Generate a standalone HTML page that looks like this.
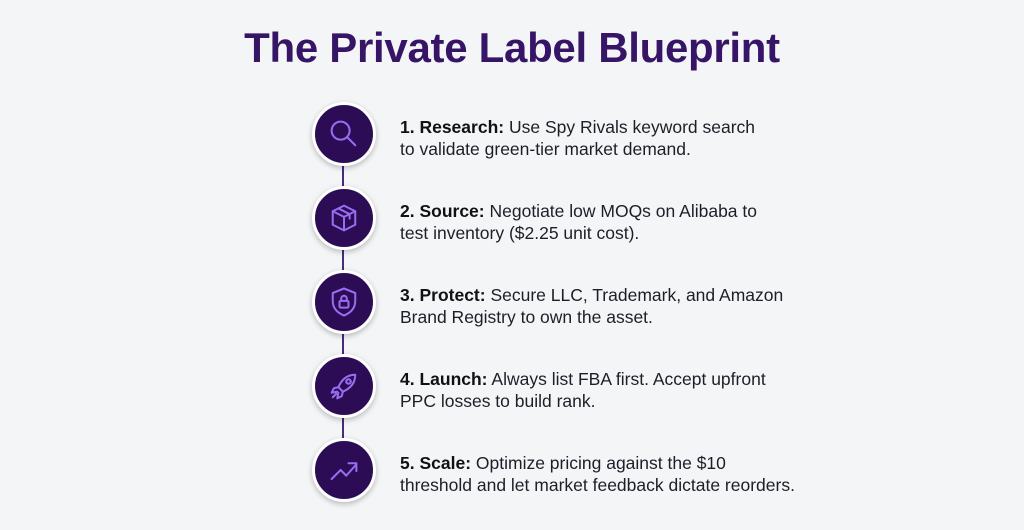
<!DOCTYPE html>
<html><head><meta charset="utf-8"><style>
body{margin:0;width:1024px;height:530px;background:#f4f5f7;font-family:"Liberation Sans",sans-serif;position:relative;overflow:hidden}
h1{position:absolute;top:24px;left:0;width:1024px;text-align:center;margin:0;font-size:42px;font-weight:bold;color:#371566;letter-spacing:-0.3px}
.line{position:absolute;left:342px;width:2px;background:#4a2a7a}
.c{position:absolute;left:312px;width:58px;height:58px;border-radius:50%;background:#2c0c55;border:3px solid #fff;box-shadow:0 2px 6px rgba(0,0,0,.25)}
.c svg{position:absolute;left:11px;top:11px;width:36px;height:36px;fill:none;stroke:#9a6cf2;stroke-width:1.8;stroke-linecap:round;stroke-linejoin:round}
.t{position:absolute;left:400px;font-size:17.5px;line-height:22px;color:#1e1e28}
.t b{color:#111}
</style></head><body>
<h1>The Private Label Blueprint</h1>
<div class="line" style="top:160px;height:280px"></div>

<div class="c" style="top:102px"><svg viewBox="0 0 32 32"><circle cx="13" cy="13" r="8"/><path d="M19 19l7 7"/></svg></div>
<div class="t" style="top:116px"><b>1. Research:</b> Use Spy Rivals keyword search<br>to validate green-tier market demand.</div>

<div class="c" style="top:186px"><svg viewBox="0 0 32 32"><path d="M16 5l10 5v12l-10 5-10-5V10z"/><path d="M6 10l10 5 10-5M16 15v12M11 7.5l10 5v4"/></svg></div>
<div class="t" style="top:200px"><b>2. Source:</b> Negotiate low MOQs on Alibaba to<br>test inventory ($2.25 unit cost).</div>

<div class="c" style="top:270px"><svg viewBox="0 0 32 32"><path d="M16 4l10 4v7c0 7-5 11-10 13C11 26 6 22 6 15V8z"/><rect x="12" y="15" width="8" height="6" rx="1"/><path d="M13.5 15v-2a2.5 2.5 0 0 1 5 0v2"/></svg></div>
<div class="t" style="top:284px"><b>3. Protect:</b> Secure LLC, Trademark, and Amazon<br>Brand Registry to own the asset.</div>

<div class="c" style="top:354px"><svg viewBox="0 0 32 32"><path d="M26 6c-7 0-12 4-15 11l4 4c7-3 11-8 11-15z"/><circle cx="20" cy="12" r="2"/><path d="M11 17l-4 1-2 4 5-1M15 21l-1 4-4 2 1-5M9 23l-3 3"/></svg></div>
<div class="t" style="top:368px"><b>4. Launch:</b> Always list FBA first. Accept upfront<br>PPC losses to build rank.</div>

<div class="c" style="top:438px"><svg viewBox="0 0 32 32"><path d="M5 24l8-8 5 5 9-10M20 10h7v7"/></svg></div>
<div class="t" style="top:452px"><b>5. Scale:</b> Optimize pricing against the $10<br>threshold and let market feedback dictate reorders.</div>
</body></html>
